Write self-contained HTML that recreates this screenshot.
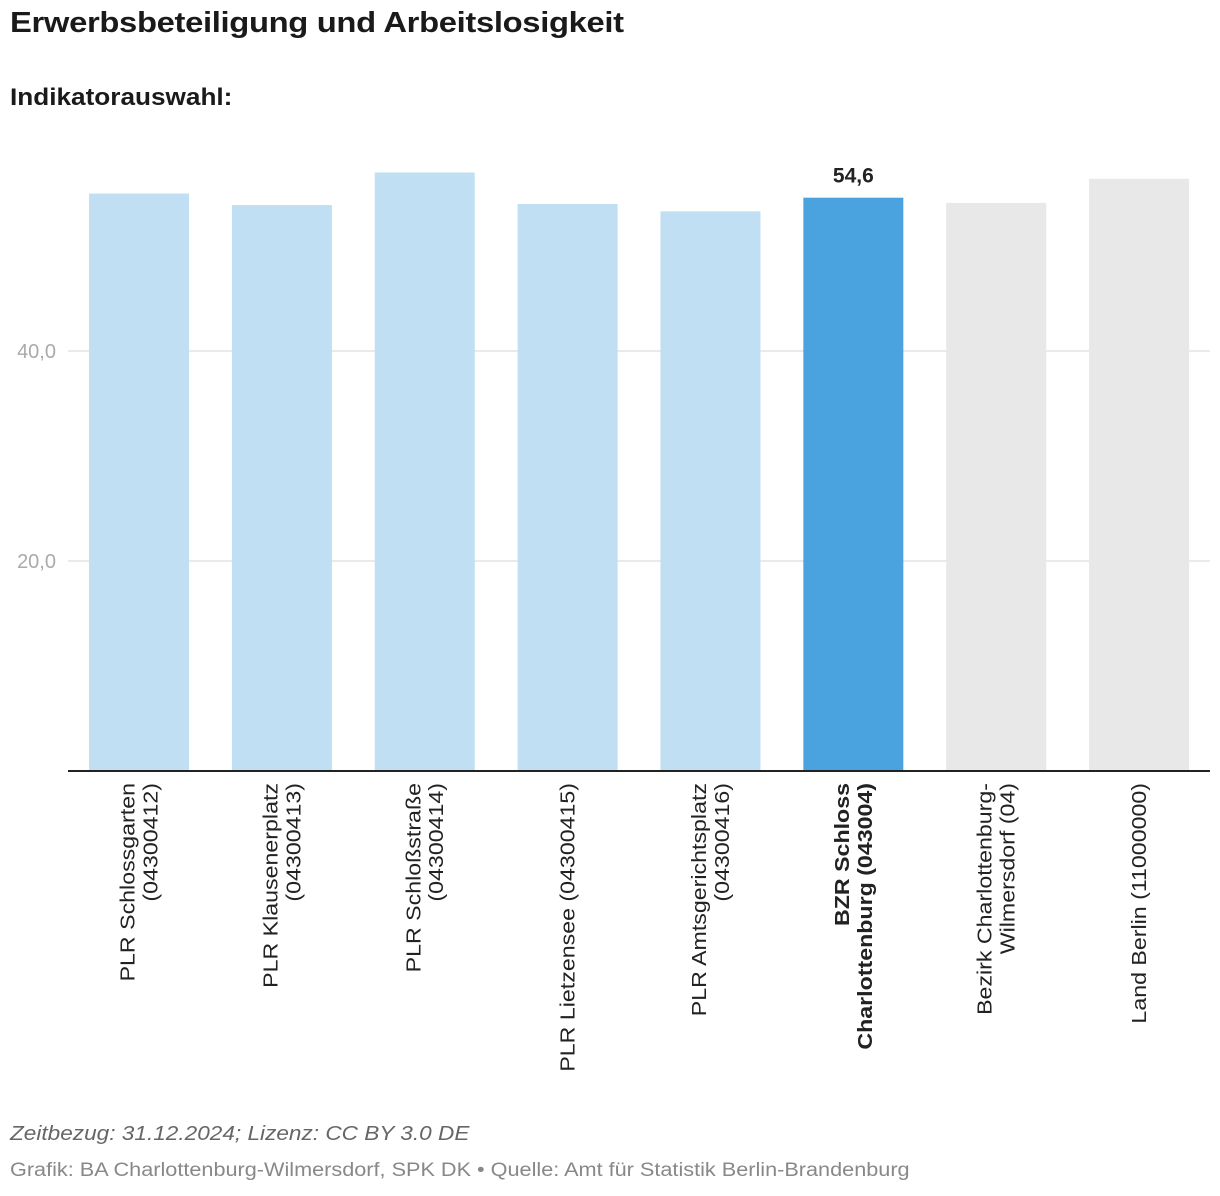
<!DOCTYPE html>
<html><head><meta charset="utf-8"><style>
body{margin:0;background:#fff;font-family:"Liberation Sans",sans-serif;width:1220px;height:1196px;overflow:hidden;position:relative}
.t{position:absolute;left:10px;color:#1a1a1a;font-weight:bold;transform-origin:0 0;white-space:nowrap}
</style></head><body>
<div class="t" style="top:7px;font-size:29px;letter-spacing:-0.3px;transform:scaleX(1.13)">Erwerbsbeteiligung und Arbeitslosigkeit</div>
<div class="t" style="top:84px;font-size:24px;transform:scaleX(1.09)">Indikatorauswahl:</div>
<svg id="c" width="1220" height="1100" style="position:absolute;left:0;top:0"></svg>
<div style="position:absolute;left:10px;top:1123px;font-size:20px;font-style:italic;color:#666;transform-origin:0 0;transform:scaleX(1.13);white-space:nowrap">Zeitbezug: 31.12.2024; Lizenz: CC BY 3.0 DE</div>
<div style="position:absolute;left:10px;top:1160px;font-size:19px;color:#888;transform-origin:0 0;transform:scaleX(1.14);white-space:nowrap">Grafik: BA Charlottenburg-Wilmersdorf, SPK DK • Quelle: Amt für Statistik Berlin-Brandenburg</div>
<script>
const categories=[["PLR Schlossgarten","(04300412)"],["PLR Klausenerplatz","(04300413)"],["PLR Schloßstraße","(04300414)"],["PLR Lietzensee (04300415)"],["PLR Amtsgerichtsplatz","(04300416)"],["BZR Schloss","Charlottenburg (043004)"],["Bezirk Charlottenburg-","Wilmersdorf (04)"],["Land Berlin (11000000)"]];
const values=[55.0,53.9,57.0,54.0,53.3,54.6,54.1,56.4];
const tickValues=[20,40];
const tickLabels=["20,0","40,0"];
const highlight=5;
const ns="http://www.w3.org/2000/svg",svg=document.getElementById('c');
const x0=67.6,step=142.86,bw=100,y0=771,k=10.5;
const xs=i=>x0+step*i+step/2, ys=v=>y0-v*k;
function el(t,a){const e=document.createElementNS(ns,t);for(const n in a)e.setAttribute(n,a[n]);svg.appendChild(e);return e;}
tickValues.forEach((v,i)=>{
 const g=el('line',{x1:68,x2:1210,y1:ys(v),y2:ys(v),stroke:'#e3e3e3','stroke-width':1.5});
 
 
 const t=el('text',{x:56,y:ys(v)+7,'text-anchor':'end','font-size':20,fill:'#aaa','font-family':'Liberation Sans'});
 t.textContent=tickLabels[i];
 
 
});
values.forEach((v,i)=>{
 const fill=i===highlight?'#4aa3de':(i>5?'#e8e8e8':'#c0dff3');
 const r=el('rect',{x:xs(i)-bw/2,y:ys(v),width:bw,height:v*k,fill});
 
 
 const lines=categories[i];
 const g=el('g',{transform:`translate(${xs(i)},783) rotate(-90) scale(1.16,1)`});
 
 
 const n=lines.length;
 lines.forEach((s,j)=>{
  const t=document.createElementNS(ns,'text');
  t.setAttribute('x',0);t.setAttribute('y',(j-(n-1)/2)*23+7);
  t.setAttribute('text-anchor','end');t.setAttribute('font-size',20);
  t.setAttribute('fill','#222');t.setAttribute('font-family','Liberation Sans');
  if(i===highlight)t.setAttribute('font-weight','bold');
  t.textContent=s;g.appendChild(t);
 });
});
const lv=el('text',{x:xs(highlight),y:ys(values[highlight])-15,'text-anchor':'middle','font-size':21,'font-weight':'bold',fill:'#222','font-family':'Liberation Sans'});
lv.textContent=values[highlight].toFixed(1).replace('.',',');


const ax=el('line',{x1:68,x2:1210,y1:y0,y2:y0,stroke:'#222','stroke-width':2});


</script>
</body></html>
